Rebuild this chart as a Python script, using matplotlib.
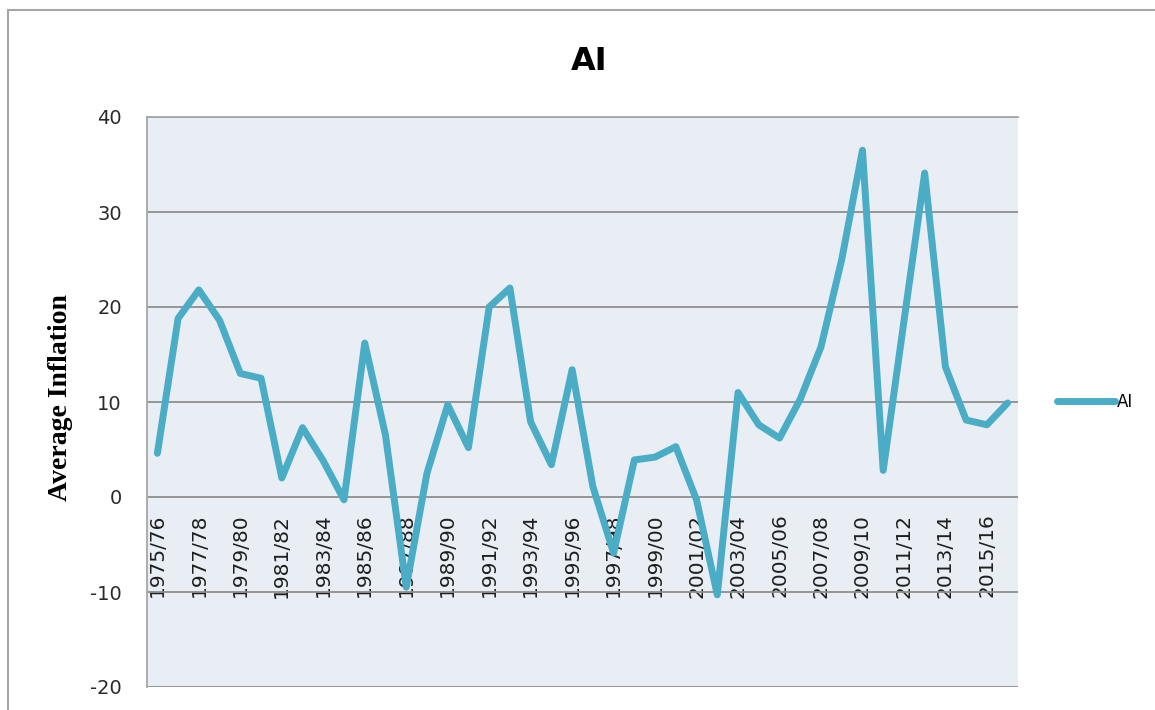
import matplotlib
matplotlib.use('Agg')

from matplotlib import pyplot as plt
from matplotlib.patches import Rectangle

plt.rcParams["axes.unicode_minus"] = False

# Financial years 1975/76 .. 2016/17
years = [f"{y}/{str(y + 1)[-2:]}" for y in range(1975, 2017)]
inflation = [4.6, 18.8, 21.8, 18.6, 13.0, 12.5, 2.0, 7.3, 3.8, -0.3,
             16.2, 6.5, -9.5, 2.5, 9.7, 5.2, 20.0, 22.0, 7.9, 3.4,
             13.4, 1.1, -5.9, 3.9, 4.2, 5.3, -0.3, -10.3, 11.0, 7.6,
             6.2, 10.3, 15.8, 25.0, 36.5, 2.8, 18.5, 34.1, 13.7, 8.1,
             7.6, 9.9]
y_ticks = [-20, -10, 0, 10, 20, 30, 40]

line_color = "#4bacc6"
grid_color = "#8e8e8e"

fig = plt.figure(figsize=(11.55, 7.10), dpi=100)
ax = fig.add_axes([147 / 1155, 1 - 687 / 710, 871 / 1155, 570 / 710])
ax.set_facecolor("#e8eef4")

x = list(range(len(years)))
ax.plot(x, inflation, color=line_color, lw=5, solid_joinstyle="round",
        solid_capstyle="round", label="AI", zorder=3)

ax.set_xlim(-0.5, len(years) - 0.5)
ax.set_ylim(-20, 40)
ax.set_yticks(y_ticks)
ax.yaxis.grid(True, color=grid_color, lw=1.3)
ax.set_axisbelow(True)
ax.tick_params(axis="y", length=0, pad=18, labelsize=14, labelcolor="#2a2a2a")

# category axis sits on the zero line
ax.spines["bottom"].set_position(("data", 0))
ax.spines["bottom"].set_visible(False)
ax.set_xticks(x[::2])
ax.set_xticklabels(years[::2], rotation=90, fontsize=14.5, color="#1e1e1e")
ax.tick_params(axis="x", length=0, pad=12)

ax.spines["right"].set_visible(False)
for side in ("left", "top"):
    ax.spines[side].set_color("#a6a6a6")
    ax.spines[side].set_linewidth(1.3)

ax.set_ylabel("Average Inflation", family="Liberation Serif", fontweight="bold",
              fontsize=20)
ax.yaxis.set_label_coords((73 - 147) / 871, (687 - 398) / 570)

fig.text(589 / 1155, 1 - 62 / 710, "AI", ha="center", va="center",
         fontsize=23, fontweight="bold")

ax.legend(loc="center left", bbox_to_anchor=(1.027, 0.5), frameon=False,
          handlelength=3.5, handletextpad=0.1, fontsize=12)

# outer chart border
fig.add_artist(Rectangle((8 / 1155, -0.1), 2, 1 - 10 / 710 + 0.1,
                         transform=fig.transFigure, fill=False,
                         edgecolor="#a6a6a6", lw=1.5))

fig.savefig("out.png", dpi=100)
plt.close(fig)
